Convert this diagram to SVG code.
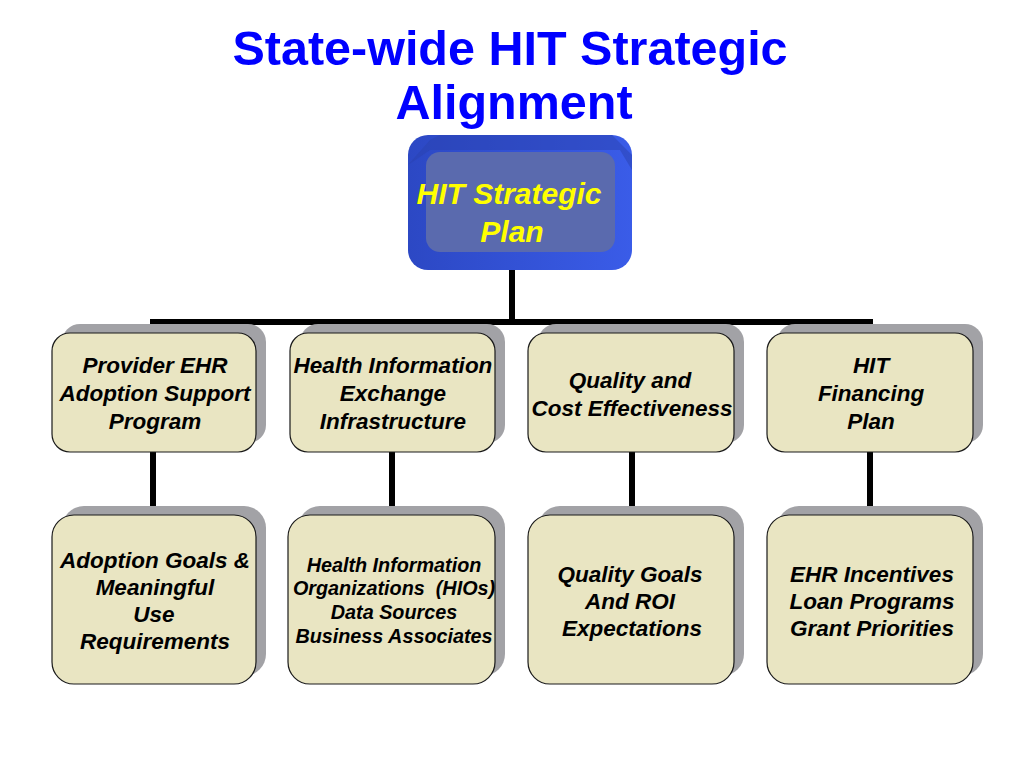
<svg xmlns="http://www.w3.org/2000/svg" width="1024" height="768" viewBox="0 0 1024 768">
<defs>
<style>
.title{font-family:"Liberation Sans",Arial,sans-serif;font-weight:bold;font-size:48.5px;fill:#0000ff;text-anchor:middle}
.top{font-family:"Liberation Sans",Arial,sans-serif;font-weight:bold;font-style:italic;font-size:30px;fill:#ffff00;text-anchor:middle}
.lbl{font-family:"Liberation Sans",Arial,sans-serif;font-weight:bold;font-style:italic;font-size:22.5px;fill:#000;text-anchor:middle}
.sm{font-size:19.8px}
.box{fill:#e9e5c2;stroke:#1a1a1a;stroke-width:1.2}
.shadow{fill:#a2a2a6}
.conn{stroke:#000;stroke-width:6;fill:none}
</style>
<linearGradient id="blue" x1="0" y1="0" x2="1" y2="0">
<stop offset="0" stop-color="#2c48c4"/>
<stop offset="1" stop-color="#3a5ce8"/>
</linearGradient>
</defs>
<rect width="1024" height="768" fill="#fff"/>
<text class="title" x="510" y="65">State-wide HIT Strategic</text>
<text class="title" x="514" y="119">Alignment</text>

<g id="connectors">
<path class="conn" d="M512 268 V322 M150 322 H873 M153 322 V340 M392 322 V340 M632 322 V340 M870 322 V340"/>
<path class="conn" d="M153 450 V518 M392 450 V518 M632 450 V518 M870 450 V518"/>
</g>

<g id="top">
<rect x="408" y="135" width="224" height="135" rx="20" fill="url(#blue)"/>
<path d="M408 165 L430 140 L440 135 H612 L632 155 V170 L620 150 L430 150 Z" fill="#2a42b0" opacity="0.5"/>
<rect x="426" y="152" width="189" height="100" rx="14" fill="#5a6aae"/>
<text class="top" x="509" y="204">HIT Strategic</text>
<text class="top" x="512" y="242">Plan</text>
</g>

<g id="m1">
<rect class="shadow" x="62" y="324" width="204" height="119" rx="18"/>
<rect class="box" x="52" y="333" width="204" height="119" rx="18"/>
<text class="lbl" x="155" y="373">Provider EHR</text>
<text class="lbl" x="155" y="401">Adoption Support</text>
<text class="lbl" x="155" y="429">Program</text>
</g>
<g id="m2">
<rect class="shadow" x="300" y="324" width="205" height="119" rx="18"/>
<rect class="box" x="290" y="333" width="205" height="119" rx="18"/>
<text class="lbl" x="393" y="373">Health Information</text>
<text class="lbl" x="393" y="401">Exchange</text>
<text class="lbl" x="393" y="429">Infrastructure</text>
</g>
<g id="m3">
<rect class="shadow" x="538" y="324" width="206" height="119" rx="18"/>
<rect class="box" x="528" y="333" width="206" height="119" rx="18"/>
<text class="lbl" x="630" y="388">Quality and</text>
<text class="lbl" x="632" y="416">Cost Effectiveness</text>
</g>
<g id="m4">
<rect class="shadow" x="777" y="324" width="206" height="119" rx="18"/>
<rect class="box" x="767" y="333" width="206" height="119" rx="18"/>
<text class="lbl" x="871" y="373">HIT</text>
<text class="lbl" x="871" y="401">Financing</text>
<text class="lbl" x="871" y="429">Plan</text>
</g>

<g id="b1">
<rect class="shadow" x="62" y="506" width="204" height="170" rx="22"/>
<rect class="box" x="52" y="515" width="204" height="169" rx="22"/>
<text class="lbl" x="155" y="568">Adoption Goals &amp;</text>
<text class="lbl" x="155" y="595">Meaningful</text>
<text class="lbl" x="154" y="622">Use</text>
<text class="lbl" x="155" y="649">Requirements</text>
</g>
<g id="b2">
<rect class="shadow" x="298" y="506" width="207" height="170" rx="22"/>
<rect class="box" x="288" y="515" width="207" height="169" rx="22"/>
<text class="lbl sm" x="394" y="572">Health Information</text>
<text class="lbl sm" x="394" y="595" xml:space="preserve">Organizations  (HIOs)</text>
<text class="lbl sm" x="394" y="619">Data Sources</text>
<text class="lbl sm" x="394" y="643">Business Associates</text>
</g>
<g id="b3">
<rect class="shadow" x="538" y="506" width="206" height="170" rx="22"/>
<rect class="box" x="528" y="515" width="206" height="169" rx="22"/>
<text class="lbl" x="630" y="582">Quality Goals</text>
<text class="lbl" x="630" y="609">And ROI</text>
<text class="lbl" x="632" y="636">Expectations</text>
</g>
<g id="b4">
<rect class="shadow" x="777" y="506" width="206" height="170" rx="22"/>
<rect class="box" x="767" y="515" width="206" height="169" rx="22"/>
<text class="lbl" x="872" y="582">EHR Incentives</text>
<text class="lbl" x="872" y="609">Loan Programs</text>
<text class="lbl" x="872" y="636">Grant Priorities</text>
</g>
</svg>
